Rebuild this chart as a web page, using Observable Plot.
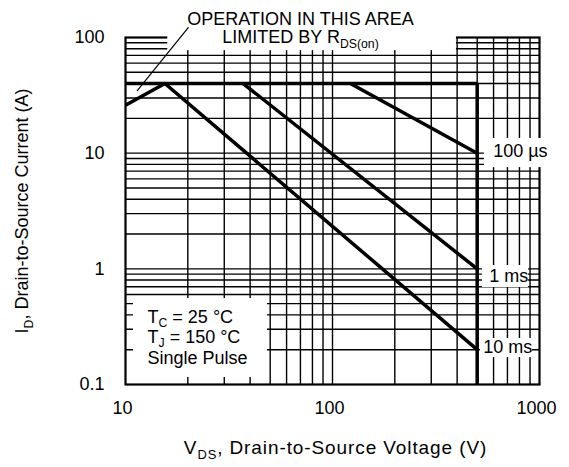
<!DOCTYPE html>
<html><head><meta charset="utf-8">
<script src="https://cdn.jsdelivr.net/npm/d3@7"></script>
<script src="https://cdn.jsdelivr.net/npm/@observablehq/plot@0.6"></script>
<style>html,body{margin:0;padding:0;background:#fff}svg{display:block}</style>
</head><body><div id="chart"></div>
<script>
// ---- data ----
const xTicks = [10, 100, 1000];
const xTickLabels = ["10", "100", "1000"];
const yTicks = [0.1, 1, 10, 100];
const yTickLabels = ["0.1", "1", "10", "100"];
const xGrid = [20, 30, 40, 50, 60, 70, 80, 90, 100, 200, 300, 400, 500, 600, 700, 800, 900];
const yGrid = [0.2, 0.3, 0.4, 0.5, 0.6, 0.7, 0.8, 0.9, 1, 2, 3, 4, 5, 6, 7, 8, 9, 10, 20, 30, 40, 50, 60, 70, 80, 90];
// SOA boundary: current limit then voltage limit
const boundaryV = [10, 500, 500];
const boundaryI = [40, 40, 0.1];
// pulse curves (10 ms starts with the RDS(on) limited segment)
const curveNames = ["100 µs", "1 ms", "10 ms"];
const curveV = [[122, 500], [37, 500], [10, 15.5, 500]];
const curveI = [[40, 10], [40, 1], [26, 40, 0.2]];
const legendLines = ["T_{C} = 25 °C", "T_{J} = 150 °C", "Single Pulse"];
const noteLines = ["OPERATION IN THIS AREA", "LIMITED BY R_{DS(on)}"];
const xLabel = "V_{DS}, Drain-to-Source Voltage (V)";
const yLabel = "I_{D}, Drain-to-Source Current (A)";

// ---- tables ----
const curveRows = [];
curveNames.forEach((n, k) => curveV[k].forEach((v, j) => curveRows.push({series: n, v, i: curveI[k][j]})));
const boundaryRows = boundaryV.map((v, j) => ({v, i: boundaryI[j]}));
const curveEnds = curveNames.map((n, k) => ({series: n, v: curveV[k][curveV[k].length - 1], i: curveI[k][curveI[k].length - 1]}));

const FONT = "Liberation Sans, Arial, Helvetica, sans-serif";
const FS = 18;

// label background boxes (in data units)
const boxes = [
  {x1: 16, x2: 397, y1: 77, y2: 130},
  {x1: 10.93, x2: 48.5, y1: 0.115, y2: 0.553},
  {x1: 542, x2: 1040, y1: 7.5, y2: 13.4},
  {x1: 530, x2: 885, y1: 0.689, y2: 1.068},
  {x1: 518, x2: 925, y1: 0.171, y2: 0.25}
];
const endOffsets = [[16, -1.5], [12, 7], [6, -2.5]];
const legendDy = [-67.5, -47.5, -26.5];
const noteDy = [-18, 0];

const curveLabelMarks = curveEnds.map((d, k) => Plot.text([d], {
  x: "v", y: "i", text: "series", textAnchor: "start", lineAnchor: "middle",
  dx: endOffsets[k][0], dy: endOffsets[k][1], fontSize: FS, fill: "#000"}));
const legendMarks = legendLines.map((s, k) => Plot.text([s], {
  text: d => d, frameAnchor: "bottom-left", textAnchor: "start", lineAnchor: "middle",
  dx: 22, dy: legendDy[k], fontSize: FS}));
const noteMarks = noteLines.map((s, k) => Plot.text([s], {
  text: d => d, frameAnchor: "top", textAnchor: "middle", lineAnchor: "middle",
  dx: -32, dy: noteDy[k], fontSize: FS}));

const chart = Plot.plot({
  width: 569,
  height: 467,
  marginLeft: 125,
  marginRight: 30,
  marginTop: 37,
  marginBottom: 83,
  style: {fontFamily: FONT, fontSize: FS + "px", background: "#fff", overflow: "visible"},
  x: {type: "log", domain: [10, 1000], axis: null},
  y: {type: "log", domain: [0.1, 100], axis: null},
  marks: [
    Plot.ruleX(xGrid, {x: d => d, stroke: "#000", strokeWidth: 1.4}),
    Plot.ruleY(yGrid, {y: d => d, stroke: "#000", strokeWidth: 1.4}),
    Plot.frame({stroke: "#000", strokeWidth: 2.2}),
    Plot.rect(boxes, {x1: "x1", x2: "x2", y1: "y1", y2: "y2", fill: "#fff", clip: false}),
    Plot.line(boundaryRows, {x: "v", y: "i", stroke: "#000", strokeWidth: 3.5, strokeLinejoin: "miter", strokeLinecap: "butt"}),
    Plot.line(curveRows, {x: "v", y: "i", z: "series", stroke: "#000", strokeWidth: 3.5, strokeLinejoin: "round", strokeLinecap: "butt"}),
    Plot.line([{v: 20.1, i: 121.8}, {v: 11.4, i: 34.8}], {x: "v", y: "i", stroke: "#000", strokeWidth: 1.2, clip: false}),
    ...curveLabelMarks,
    Plot.text(xTicks, {x: d => d, text: (d, i) => xTickLabels[i], frameAnchor: "bottom", textAnchor: "middle", lineAnchor: "middle", dy: 24, dx: -3, fontSize: FS}),
    Plot.text(yTicks, {y: d => d, text: (d, i) => yTickLabels[i], frameAnchor: "left", textAnchor: "end", lineAnchor: "middle", dx: -21, fontSize: FS}),
    ...noteMarks,
    ...legendMarks,
    Plot.text([xLabel], {text: d => d, frameAnchor: "bottom", textAnchor: "middle", lineAnchor: "middle", dy: 63, dx: 3, fontSize: 19, className: "xlab"}),
    Plot.text([yLabel], {text: d => d, frameAnchor: "left", textAnchor: "middle", lineAnchor: "middle", rotate: -90, dx: -103, fontSize: FS})
  ]
});

document.getElementById("chart").appendChild(chart);
chart.querySelectorAll(".xlab text").forEach(t => t.setAttribute("letter-spacing", "0.9"));

// subscripts: "_{...}"
function applySubs(svg) {
  const NS = "http://www.w3.org/2000/svg";
  svg.querySelectorAll("text").forEach(t => {
    const els = t.querySelectorAll("tspan").length ? [...t.querySelectorAll("tspan")] : [t];
    els.forEach(el => {
      const s = el.textContent;
      if (!s.includes("_{")) return;
      const fs = parseFloat(getComputedStyle(el).fontSize) || FS;
      el.textContent = "";
      const parts = s.split(/_\{([^}]*)\}/);
      let shifted = false;
      parts.forEach((p, idx) => {
        const isSub = idx % 2 === 1;
        if (!p) return;
        const ts = document.createElementNS(NS, "tspan");
        ts.textContent = p;
        if (isSub) {
          ts.setAttribute("font-size", (fs * 0.68).toFixed(2));
          ts.setAttribute("dy", (fs * 0.26).toFixed(2));
          shifted = true;
        } else if (shifted) {
          ts.setAttribute("dy", (-fs * 0.26).toFixed(2));
          shifted = false;
        }
        el.appendChild(ts);
      });
    });
  });
}
applySubs(chart);
</script>
</body></html>
